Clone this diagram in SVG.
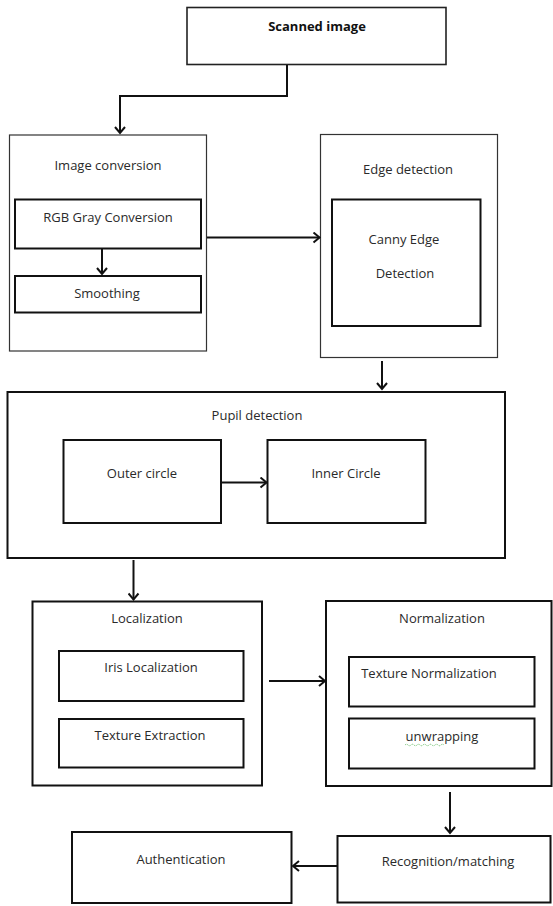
<svg xmlns="http://www.w3.org/2000/svg" width="553" height="906" viewBox="0 0 553 906">
  <defs>
    <marker id="arr" markerUnits="userSpaceOnUse" markerWidth="12" markerHeight="12" refX="8" refY="6" orient="auto">
      <path d="M2,1 L8,6 L2,11" fill="none" stroke="#111" stroke-width="2"/>
    </marker>
    <style>
      .box { fill: #fff; stroke: #111; stroke-width: 2; }
      .thin { fill: #fff; stroke: #333; stroke-width: 1.2; }
      .med { fill: #fff; stroke: #222; stroke-width: 1.6; }
      .lbl { font-family: "Open Sans", "Liberation Sans", sans-serif; font-size: 13px; fill: #2a2a2a; text-anchor: middle; }
      .bold { font-weight: bold; fill: #111; }
      .conn { fill: none; stroke: #111; stroke-width: 2; marker-end: url(#arr); }
    </style>
  </defs>
  <rect width="553" height="906" fill="#fff"/>

  <g id="scanned">
    <rect class="med" x="187" y="7.5" width="259" height="57"/>
    <text class="lbl bold" x="317" y="30.5">Scanned image</text>
  </g>

  <g id="image-conversion">
    <rect class="thin" x="9.5" y="135" width="197" height="216"/>
    <text class="lbl" x="108" y="169.5">Image conversion</text>
    <g id="rgb-gray">
      <rect class="box" x="15" y="199.5" width="186" height="49"/>
      <text class="lbl" x="108" y="221.5">RGB Gray Conversion</text>
    </g>
    <g id="smoothing">
      <rect class="box" x="15" y="276" width="186" height="36.5"/>
      <text class="lbl" x="107" y="297.5">Smoothing</text>
    </g>
  </g>

  <g id="edge-detection">
    <rect class="thin" x="320.5" y="134.5" width="177" height="223"/>
    <text class="lbl" x="408" y="173.5">Edge detection</text>
    <g id="canny">
      <rect class="box" x="332" y="199.5" width="148.5" height="126.5"/>
      <text class="lbl" x="404" y="243.5">Canny Edge</text>
      <text class="lbl" x="405" y="277.5">Detection</text>
    </g>
  </g>

  <g id="pupil-detection">
    <rect class="box" x="7.5" y="392" width="497.5" height="166"/>
    <text class="lbl" x="257" y="419.5">Pupil detection</text>
    <g id="outer-circle">
      <rect class="box" x="63.5" y="440" width="157.5" height="83"/>
      <text class="lbl" x="142" y="477.5">Outer circle</text>
    </g>
    <g id="inner-circle">
      <rect class="box" x="267.5" y="440" width="158" height="83"/>
      <text class="lbl" x="346" y="477.5">Inner Circle</text>
    </g>
  </g>

  <g id="localization">
    <rect class="box" x="32.5" y="601.5" width="229.5" height="184"/>
    <text class="lbl" x="147" y="622.5">Localization</text>
    <g id="iris-localization">
      <rect class="box" x="59" y="651" width="184.5" height="50"/>
      <text class="lbl" x="151" y="671.5">Iris Localization</text>
    </g>
    <g id="texture-extraction">
      <rect class="box" x="59" y="719" width="184.5" height="48.5"/>
      <text class="lbl" x="150" y="739.5">Texture Extraction</text>
    </g>
  </g>

  <g id="normalization">
    <rect class="box" x="326" y="601" width="225.5" height="185"/>
    <text class="lbl" x="442" y="622.5">Normalization</text>
    <g id="texture-normalization">
      <rect class="box" x="349" y="657" width="185.5" height="49.5"/>
      <text class="lbl" x="429" y="677.5">Texture Normalization</text>
    </g>
    <g id="unwrapping">
      <rect class="box" x="349" y="718.5" width="185.5" height="50"/>
      <text class="lbl" x="442" y="740.5">unwrapping</text>
      <path d="M405,745 q1.5,-1.5 3,0 t3,0 t3,0 t3,0 t3,0 t3,0 t3,0 t3,0 t3,0 t3,0 t3,0 t3,0 t3,0" fill="none" stroke="#5cb85c" stroke-width="0.8" stroke-dasharray="1.2 0.8"/>
    </g>
  </g>

  <g id="recognition">
    <rect class="box" x="337.5" y="836" width="213" height="66.5"/>
    <text class="lbl" x="448" y="865.5">Recognition/matching</text>
  </g>

  <g id="authentication">
    <rect class="box" x="72" y="832" width="219.5" height="71"/>
    <text class="lbl" x="181" y="863.5">Authentication</text>
  </g>

  <g id="connectors">
    <path class="conn" d="M287,65 V96 H120 V133"/>
    <path class="conn" d="M102,248.5 V274"/>
    <path class="conn" d="M207,237.5 H319.5"/>
    <path class="conn" d="M382,361 V389"/>
    <path class="conn" d="M221,482.5 H266.5"/>
    <path class="conn" d="M133.5,560 V599.5"/>
    <path class="conn" d="M269,681 H325"/>
    <path class="conn" d="M450,792 V833"/>
    <path class="conn" d="M337,866 H293"/>
  </g>
</svg>
